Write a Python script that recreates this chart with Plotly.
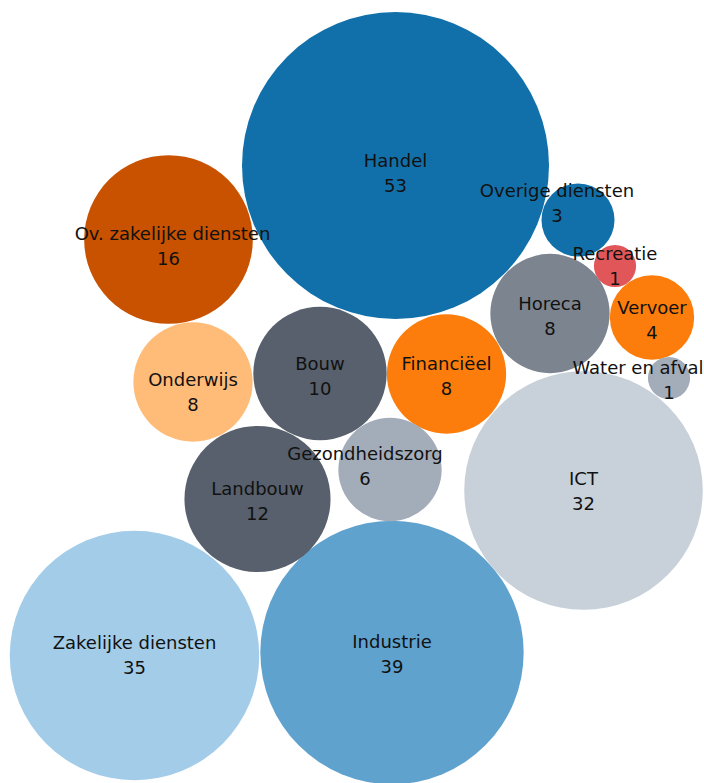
import plotly.graph_objects as go
import math

# Data
sectors = ["Handel", "Industrie", "Zakelijke diensten", "ICT", "Ov. zakelijke diensten",
           "Landbouw", "Bouw", "Onderwijs", "Financiëel", "Horeca",
           "Gezondheidszorg", "Vervoer", "Overige diensten", "Recreatie", "Water en afval"]
counts = [53, 39, 35, 32, 16, 12, 10, 8, 8, 8, 6, 4, 3, 1, 1]
# packed-layout positions of the bubble centres (chart units)
pos_x = [395.5, 392, 134.5, 583.5, 168.5, 257.5, 320, 193, 446.5, 550, 390, 652, 578, 615, 669]
pos_y = [165.5, 652.5, 655.5, 490.5, 239.5, 499, 373.5, 382, 374, 313.5, 469.5, 317.5, 220, 266, 378]
colors = ["#1170aa", "#5fa2ce", "#a3cce9", "#c8d0d9", "#c85200",
          "#57606c", "#57606c", "#ffbc79", "#fc7d0b", "#7b848f",
          "#a3acb9", "#fc7d0b", "#1170aa", "#e15759", "#a3acb9"]

# label placement nudges (collision avoidance / keep inside chart)
name_dx = [0, 0, 0, 0, 4, 0, 0, 0, 0, 0, -25, 0, -21, 0, -31]
value_dx = [0, 0, 0, 0, 0, 0, 0, 0, 0, 0, -25, 0, -21, 0, 0]
label_dy = [7, 0.5, -1.5, 0, 5.5, 1.5, 2, 9, 1.5, 1.5, -4.5, 1.5, -18, -1, 1]

W, H = 704, 783
max_radius = 153.5
half_gap = 12.5
base_shift = 2.5
vmax = max(counts)
diam = [2 * max_radius * math.sqrt(v / vmax) for v in counts]
hover = [f"{s}: {v}" for s, v in zip(sectors, counts)]
font = dict(family="DejaVu Sans", size=18, color="#111111")

fig = go.Figure()
fig.add_trace(go.Scatter(
    x=pos_x, y=pos_y, mode="markers",
    marker=dict(size=diam, sizemode="diameter", color=colors, opacity=1, line=dict(width=0)),
    text=hover, hovertemplate="%{text}<extra></extra>",
))
fig.add_trace(go.Scatter(
    x=[x + d for x, d in zip(pos_x, name_dx)],
    y=[y + d + base_shift - half_gap for y, d in zip(pos_y, label_dy)],
    mode="text", text=sectors, textposition="middle center", cliponaxis=False,
    textfont=font, hoverinfo="skip",
))
fig.add_trace(go.Scatter(
    x=[x + d for x, d in zip(pos_x, value_dx)],
    y=[y + d + base_shift + half_gap for y, d in zip(pos_y, label_dy)],
    mode="text", text=[str(v) for v in counts], textposition="middle center", cliponaxis=False,
    textfont=font, hoverinfo="skip",
))
fig.update_layout(
    width=W, height=H, margin=dict(l=0, r=0, t=0, b=0),
    paper_bgcolor="white", plot_bgcolor="white", showlegend=False,
    xaxis=dict(range=[0, W], visible=False, fixedrange=True),
    yaxis=dict(range=[H, 0], visible=False, fixedrange=True),
)
fig.write_html("out.html", config={"displayModeBar": False},
               post_script="document.body.style.margin='0';")
